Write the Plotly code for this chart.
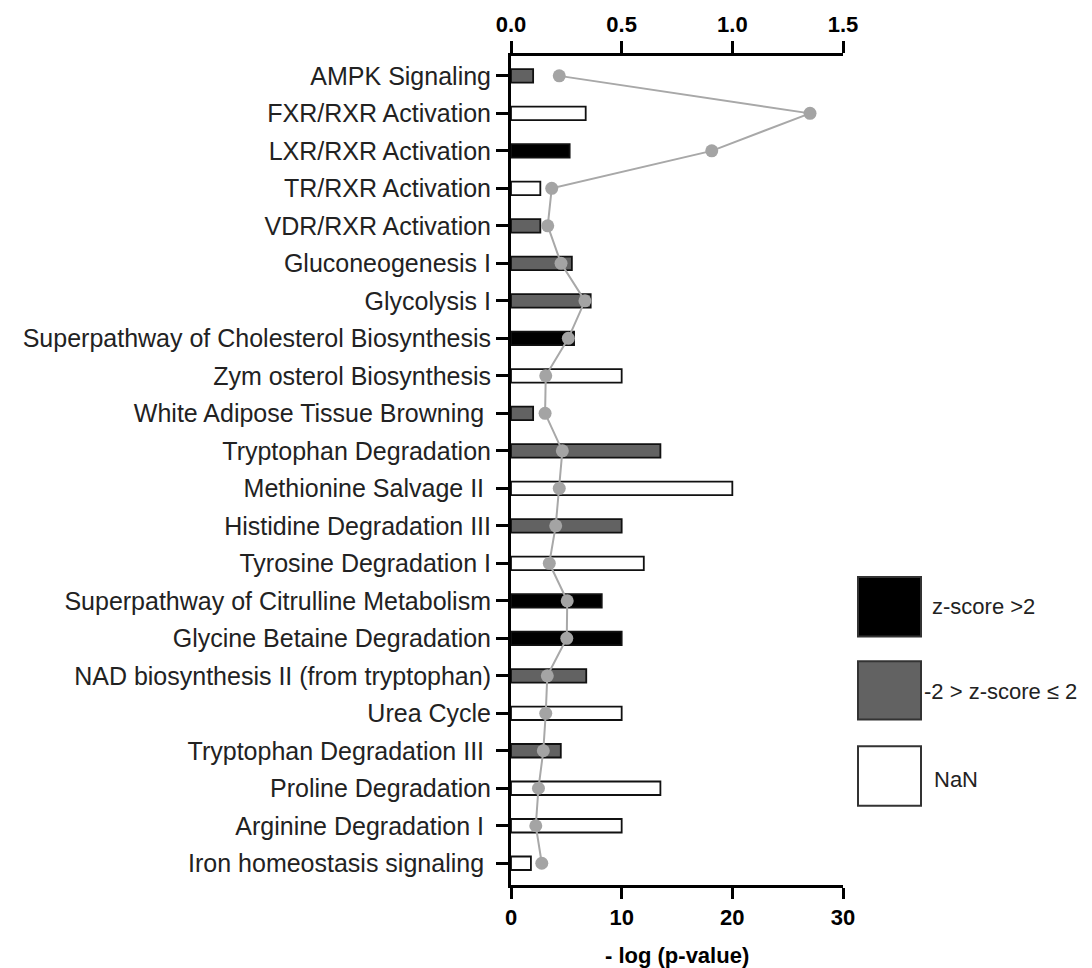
import plotly.graph_objects as go

pathways = [
    "AMPK Signaling",
    "FXR/RXR Activation",
    "LXR/RXR Activation",
    "TR/RXR Activation",
    "VDR/RXR Activation",
    "Gluconeogenesis I",
    "Glycolysis I",
    "Superpathway of Cholesterol Biosynthesis",
    "Zym osterol Biosynthesis",
    "White Adipose Tissue Browning ",
    "Tryptophan Degradation",
    "Methionine Salvage II ",
    "Histidine Degradation III",
    "Tyrosine Degradation I",
    "Superpathway of Citrulline Metabolism",
    "Glycine Betaine Degradation",
    "NAD biosynthesis II (from tryptophan)",
    "Urea Cycle",
    "Tryptophan Degradation III ",
    "Proline Degradation",
    "Arginine Degradation I ",
    "Iron homeostasis signaling ",
]

neg_log_p = [2.0, 6.75, 5.3, 2.65, 2.65, 5.5, 7.2, 5.7, 10.0, 2.0, 13.5, 20.0,
             10.0, 12.0, 8.2, 10.0, 6.8, 10.0, 4.5, 13.5, 10.0, 1.8]

ratio = [0.218, 1.351, 0.907, 0.184, 0.166, 0.226, 0.334, 0.259, 0.157, 0.154,
         0.232, 0.218, 0.202, 0.173, 0.254, 0.252, 0.164, 0.157, 0.146, 0.124,
         0.112, 0.139]

z_class = ["mid", "nan", "high", "nan", "mid", "mid", "mid", "high", "nan", "mid",
           "mid", "nan", "mid", "nan", "high", "high", "mid", "nan", "mid", "nan",
           "nan", "nan"]

legend_labels = {"high": "z-score >2", "mid": "-2 > z-score ≤ 2", "nan": "NaN"}
class_colors = {"high": "#000000", "mid": "#626262", "nan": "#ffffff"}

bottom_ticks = [0, 10, 20, 30]
top_ticks = [0.0, 0.5, 1.0, 1.5]

FONT = "Liberation Sans, Arial, sans-serif"

row = list(range(len(pathways)))

fig = go.Figure()

fig.add_trace(go.Bar(
    x=neg_log_p, y=row, orientation="h",
    marker=dict(color=[class_colors[c] for c in z_class],
                line=dict(color="#111111", width=1.8)),
    width=0.36, showlegend=False, customdata=pathways,
    hovertemplate="%{customdata}: %{x}<extra></extra>",
))

fig.add_trace(go.Scatter(
    x=ratio, y=row, xaxis="x2", mode="lines+markers",
    line=dict(color="#a8a8a8", width=2),
    marker=dict(color="#a4a4a4", size=13),
    showlegend=False, cliponaxis=False, customdata=pathways,
    hovertemplate="%{customdata}: %{x}<extra></extra>",
))

W, H = 1092, 968
L, R, T, B = 511, 843, 48, 885

axis_common = dict(showline=True, linewidth=3, linecolor="black", ticks="outside",
                   tickwidth=3, tickcolor="black", showgrid=False, zeroline=False)

fig.update_layout(
    width=W, height=H,
    margin=dict(l=L, r=W - R, t=T, b=H - B, pad=0),
    paper_bgcolor="white", plot_bgcolor="white",
    xaxis=dict(range=[0, 30], tickvals=bottom_ticks, ticklen=11,
               tickfont=dict(family=FONT, size=22, color="black", weight="bold"),
               **axis_common),
    xaxis2=dict(range=[0, 1.5], tickvals=top_ticks, ticktext=[f"{v:.1f}" for v in top_ticks],
                overlaying="x", side="top", ticklen=12,
                tickfont=dict(family=FONT, size=22, color="black", weight="bold"),
                **axis_common),
    yaxis=dict(range=[len(pathways) - 1 + 0.58, -0.53], tickvals=row, ticktext=pathways,
               ticklen=12, tickfont=dict(family=FONT, size=25, color="#222222"),
               **axis_common),
    bargap=0.6,
)

def px_x(p):
    return (p - L) / (R - L)

def px_y(p):
    return (B - p) / (B - T)

fig.add_annotation(text="<b>- log (p-value)</b>", x=0.5, y=px_y(956), xref="paper", yref="paper",
                   showarrow=False, xanchor="center", yanchor="middle",
                   font=dict(family=FONT, size=22, color="black"))

legend_boxes = [("high", 858, 921, 574, 634, 930, 604),
                ("mid", 858, 921, 659, 718, 922, 690),
                ("nan", 858, 921, 745, 805, 932, 778)]
for cls, x0, x1, y0, y1, tx, ty in legend_boxes:
    fig.add_shape(type="rect", xref="paper", yref="paper",
                  x0=px_x(x0), x1=px_x(x1), y0=px_y(y1), y1=px_y(y0),
                  fillcolor=class_colors[cls], line=dict(color="#333333", width=2))
    fig.add_annotation(text=legend_labels[cls], x=px_x(tx), y=px_y(ty), xref="paper", yref="paper",
                       showarrow=False, xanchor="left", yanchor="middle",
                       font=dict(family=FONT, size=22, color="#222222"))

fig.write_html("out.html")
